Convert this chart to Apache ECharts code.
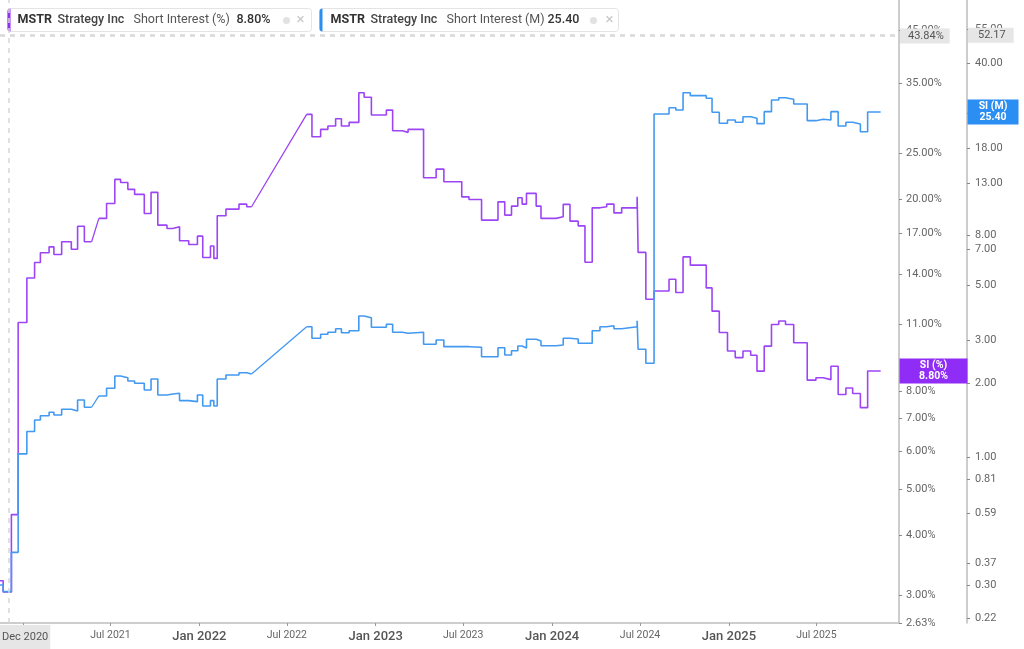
<!DOCTYPE html>
<html><head><meta charset="utf-8">
<script src="https://cdn.jsdelivr.net/npm/echarts@6/dist/echarts.min.js"></script>
<style>html,body{margin:0;padding:0;background:#fff}#c{width:1024px;height:649px}</style>
</head><body><div id="c"></div>
<script>
// ---- data ----
const dates = [
 '2020-11-06','2020-11-21','2020-12-08','2020-12-22','2021-01-09','2021-01-25','2021-02-06','2021-02-24','2021-03-06','2021-03-22',
 '2021-04-11','2021-04-24','2021-05-08','2021-05-23','2021-06-07','2021-06-23','2021-07-10','2021-07-22','2021-08-06','2021-08-20',
 '2021-09-09','2021-09-23','2021-10-07','2021-10-26','2021-11-07','2021-11-21','2021-12-10','2021-12-28','2022-01-08','2022-01-24',
 '2022-01-31','2022-02-07','2022-02-25','2022-03-24','2022-04-09','2022-04-19','2022-08-11','2022-08-22','2022-09-09','2022-09-24',
 '2022-10-10','2022-10-22','2022-11-07','2022-11-27','2022-12-08','2022-12-23','2023-01-23','2023-02-05','2023-02-25','2023-03-09',
 '2023-04-10','2023-05-06','2023-05-22','2023-06-28','2023-07-13','2023-08-08','2023-09-11','2023-09-25','2023-10-09','2023-10-22',
 '2023-10-31','2023-11-09','2023-11-29','2023-12-09','2024-01-09','2024-01-24','2024-02-07','2024-02-24','2024-03-09','2024-03-24',
 '2024-04-09','2024-04-23','2024-05-08','2024-05-24','2024-06-25','2024-06-27','2024-07-13','2024-07-30','2024-08-30','2024-09-13',
 '2024-09-28','2024-10-13','2024-11-15','2024-11-27','2024-12-12','2024-12-29','2025-01-14','2025-01-30','2025-02-15','2025-02-28',
 '2025-03-15','2025-03-30','2025-04-14','2025-04-28','2025-05-15','2025-06-12','2025-06-30','2025-07-15','2025-07-31','2025-08-15',
 '2025-08-31','2025-09-14','2025-09-30','2025-10-15','2025-11-11'
];
const siPct = [
 3.22,3.05,4.42,11.10,13.74,14.80,15.50,15.95,15.38,16.34,
 15.77,17.61,16.34,16.34,18.28,19.64,22.04,21.72,21.01,20.51,
 18.72,20.71,17.70,17.42,17.56,16.42,16.13,16.79,15.16,16.01,
 15.09,18.51,19.11,19.57,19.33,19.33,30.10,27.04,28.01,28.46,
 29.47,28.46,28.97,33.39,32.66,30.00,30.72,27.83,27.61,28.01,
 22.21,23.15,21.79,20.27,20.02,18.13,19.79,18.57,19.39,20.18,
 19.57,20.61,19.39,18.28,18.42,19.55,18.04,17.64,14.82,19.23,
 19.33,19.57,18.77,19.23,20.27,15.53,12.41,12.91,13.66,12.82,
 15.20,14.61,13.10,11.72,10.58,9.68,9.38,9.68,9.49,8.79,
 9.91,10.99,11.18,10.99,10.07,8.42,8.52,8.44,9.00,7.86,
 8.11,7.90,7.38,8.80,8.80
];
const siShares = [
 0.301,0.283,0.409,1.03,1.27,1.415,1.473,1.521,1.483,1.564,
 1.539,1.707,1.594,1.594,1.772,1.905,2.137,2.103,2.039,1.996,
 1.874,2.078,1.788,1.805,1.817,1.696,1.680,1.788,1.613,1.696,
 1.613,2.078,2.158,2.204,2.178,2.178,3.393,3.043,3.159,3.219,
 3.330,3.207,3.268,3.751,3.692,3.374,3.470,3.219,3.189,3.219,
 2.876,2.995,2.813,2.813,2.797,2.561,2.786,2.602,2.709,2.831,
 2.78,3.015,2.967,2.839,2.858,3.043,3.023,2.904,2.904,3.268,
 3.393,3.424,3.330,3.393,3.589,2.745,2.407,24.93,26.44,25.88,
 30.43,29.59,28.88,25.32,22.85,23.56,23.06,24.30,23.94,22.76,
 25.47,28.42,29.04,28.60,27.37,23.41,23.71,23.56,25.47,22.28,
 23.06,22.70,21.11,25.40,25.40
];
const gapStarts = ['2021-05-23','2022-04-19'];
const pctTicks = [2.63,3,4,5,6,7,8,11,14,17,20,25,35,45];
const shareTicks = [0.22,0.30,0.37,0.59,0.81,1,2,3,5,7,8,13,18,25,40,55];
const xRange = ['2020-11-14T10:00:00','2025-12-18T22:00:00'];
const pctRange = [2.629, 52.07];
const shareRange = [0.2109, 72.56];
const cursor = {date:'2020-12-03', pct:43.84, shares:52.17};
const ticker = 'MSTR', company = 'Strategy Inc';
const pctName = 'Short Interest (%)', shareName = 'Short Interest (M)';

// ---- build ----
const PURPLE = '#9d45f5', BLUE = '#4399f2';
const PURPLE_BOX = '#8f2cf6', BLUE_BOX = '#2b8ef3';
const MONTHS = ['Jan','Feb','Mar','Apr','May','Jun','Jul','Aug','Sep','Oct','Nov','Dec'];
const DAY = 86400000;

function stepData(vals){
  const out = [];
  dates.forEach((d,i)=>{ out.push([d, vals[i]]); if (gapStarts.includes(d)) out.push([d, '-']); });
  return out;
}
function gapData(vals){
  const out = [];
  gapStarts.forEach(g=>{ const i = dates.indexOf(g);
    out.push([dates[i], vals[i]]); out.push([dates[i+1], vals[i+1]]); out.push([dates[i+1], '-']); });
  return out;
}
const lastPct = siPct[siPct.length-1], lastShares = siShares[siShares.length-1];
const FONT = 'Roboto, "Noto Sans", sans-serif';

function legendGroup(left, color, name, value, w, pos){
  return {type:'group', left:left, top:8, children:[
    {type:'rect', shape:{x:0,y:0,width:w,height:23,r:3}, style:{fill:'#fff', stroke:'#e4e4e4', lineWidth:1}},
    {type:'rect', shape:{x:0,y:0,width:3,height:23,r:[3,0,0,3]}, style:{fill:color}},
    {type:'text', x:pos[0], y:11.5, style:{text:ticker, fill:'#333', font:'bold 12.5px '+FONT, verticalAlign:'middle'}},
    {type:'text', x:pos[1], y:11.5, style:{text:company, fill:'#444', font:'500 12.5px '+FONT, verticalAlign:'middle'}},
    {type:'text', x:pos[2], y:11.5, style:{text:name, fill:'#555', font:'12.5px '+FONT, verticalAlign:'middle'}},
    {type:'text', x:pos[3], y:11.5, style:{text:value, fill:'#333', font:'500 12.5px '+FONT, verticalAlign:'middle'}},
    {type:'circle', shape:{cx:pos[4], cy:12, r:3.5}, style:{fill:'#e2e2e2'}},
    {type:'text', x:pos[5], y:11.5, style:{text:'×', fill:'#c8c8c8', font:'15px '+FONT, verticalAlign:'middle'}}
  ]};
}

const chart = echarts.init(document.getElementById('c'), null, {renderer:'canvas'});
chart.setOption({
  animation:false,
  backgroundColor:'#fff',
  textStyle:{fontFamily:FONT},
  grid:{left:0, right:125, top:0, bottom:26, containLabel:false, outerBoundsMode:'none'},
  xAxis:{
    type:'time', min:xRange[0], max:xRange[1], minInterval:180*DAY, maxInterval:186*DAY,
    axisLine:{show:true, lineStyle:{color:'#bdbdbd', width:1.5}},
    axisTick:{show:true, length:3, lineStyle:{color:'#999'}},
    splitLine:{show:false},
    axisLabel:{margin:7, hideOverlap:false, showMaxLabel:false,
      formatter:function(v){ const d=new Date(v); const m=d.getMonth();
        const t = MONTHS[m]+' '+d.getFullYear();
        return m===0 ? '{big|'+t+'}' : '{small|'+t+'}'; },
      rich:{ big:{fontSize:13, color:'#555', fontFamily:FONT, fontWeight:500},
             small:{fontSize:10.5, color:'#666', fontFamily:FONT} } },
    axisPointer:{show:true, type:'line', value:cursor.date, status:'show', snap:false, triggerTooltip:false,
      lineStyle:{color:'#d6d6d6', width:1.5, type:[5,5]},
      label:{show:true, formatter:function(p){ const d=new Date(p.value); return MONTHS[d.getMonth()]+' '+d.getFullYear(); },
        backgroundColor:'#e6e6e6', color:'#555', fontSize:11, fontFamily:FONT, padding:[7,2,6,2], margin:2, borderRadius:0} }
  },
  yAxis:[
    { type:'log', logBase:10, position:'right', offset:0, min:pctRange[0], max:pctRange[1],
      axisLine:{show:true, lineStyle:{color:'#bdbdbd', width:1.5}},
      axisTick:{show:true, customValues:pctTicks, length:3, lineStyle:{color:'#888'}},
      splitLine:{show:false},
      axisLabel:{customValues:pctTicks, margin:7, color:'#666', fontSize:11, fontFamily:FONT,
        formatter:function(v){ return v.toFixed(2)+'%'; } },
      axisPointer:{show:true, type:'line', value:cursor.pct, status:'show', snap:false, triggerTooltip:false,
        lineStyle:{color:'#d6d6d6', width:1.5, type:[5,5]},
        label:{show:true, formatter:function(p){ return (+p.value).toFixed(2)+'%'; },
          backgroundColor:'#e6e6e6', color:'#555', fontSize:11, fontFamily:FONT, padding:[2,6,2,8], margin:1, borderRadius:0} } },
    { type:'log', logBase:10, position:'right', offset:68, min:shareRange[0], max:shareRange[1],
      axisLine:{show:true, lineStyle:{color:'#bdbdbd', width:1.5}},
      axisTick:{show:true, customValues:shareTicks, length:3, lineStyle:{color:'#888'}},
      splitLine:{show:false},
      axisLabel:{customValues:shareTicks, margin:8, color:'#666', fontSize:11, fontFamily:FONT,
        formatter:function(v){ return v.toFixed(2); } },
      axisPointer:{show:true, type:'line', value:cursor.shares, status:'show', snap:false, triggerTooltip:false,
        lineStyle:{color:'#d6d6d6', width:1.5, type:[5,5]},
        label:{show:true, formatter:function(p){ return (+p.value).toFixed(2); },
          backgroundColor:'#e6e6e6', color:'#555', fontSize:11, fontFamily:FONT, padding:[2,8,2,10], margin:1, borderRadius:0} } }
  ],
  series:[
    { name:pctName, type:'line', yAxisIndex:0, step:'end', symbol:'none', data:stepData(siPct),
      lineStyle:{color:PURPLE, width:1.6}, itemStyle:{color:PURPLE}, z:3,
      markPoint:{ silent:true, symbol:'rect', symbolSize:[68,25], symbolOffset:[34.5,0],
        itemStyle:{color:PURPLE_BOX},
        label:{show:true, position:'inside', color:'#fff', fontWeight:'bold', fontSize:10.5, lineHeight:11, fontFamily:FONT,
          formatter:'SI (%)\n'+lastPct.toFixed(2)+'%'},
        data:[{coord:[xRange[1], lastPct]}] } },
    { name:pctName+' gap', type:'line', yAxisIndex:0, symbol:'none', data:gapData(siPct),
      lineStyle:{color:PURPLE, width:1.3}, z:3 },
    { name:shareName, type:'line', yAxisIndex:1, step:'end', symbol:'none', data:stepData(siShares),
      lineStyle:{color:BLUE, width:1.6}, itemStyle:{color:BLUE}, z:3,
      markPoint:{ silent:true, symbol:'rect', symbolSize:[51,25], symbolOffset:[94,0],
        itemStyle:{color:BLUE_BOX},
        label:{show:true, position:'inside', color:'#fff', fontWeight:'bold', fontSize:10.5, lineHeight:11, fontFamily:FONT,
          formatter:'SI (M)\n'+lastShares.toFixed(2)},
        data:[{coord:[xRange[1], lastShares]}] } },
    { name:shareName+' gap', type:'line', yAxisIndex:1, symbol:'none', data:gapData(siShares),
      lineStyle:{color:BLUE, width:1.3}, z:3 }
  ],
  graphic:[
    legendGroup(7, PURPLE_BOX, pctName, lastPct.toFixed(2)+'%', 304, [10,50,126,229,279,289]),
    legendGroup(319, BLUE_BOX, shareName, lastShares.toFixed(2), 299, [11,51,127,228,274,286])
  ]
});
</script></body></html>
